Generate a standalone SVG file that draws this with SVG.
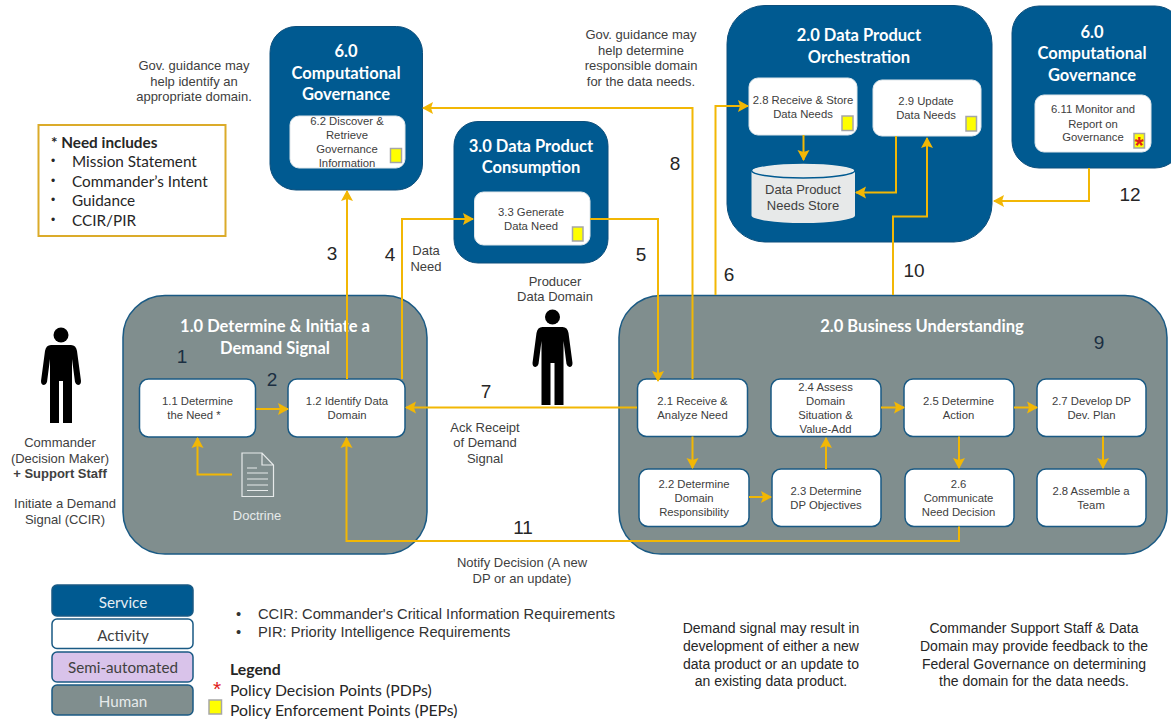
<svg xmlns="http://www.w3.org/2000/svg" width="1171" height="719" viewBox="0 0 1171 719">
<style>
text{font-family:"Liberation Sans",Arial,sans-serif;dominant-baseline:central;text-anchor:middle;fill:#404040;font-size:11.3px}
.title{font-family:Lato,"Open Sans",sans-serif;font-weight:700;font-size:16.5px;fill:#fff}
.svc{fill:#005a91;stroke:#0d4f7c;stroke-width:1}
.hum{fill:#808e8e;stroke:#1a5a84;stroke-width:1.5}
.act{fill:#fff;stroke:#1a5a84;stroke-width:1.5}
.in{fill:#fff;stroke:#dfe6ea;stroke-width:1}
.pep{fill:#ffff00;stroke:#a6a6a6;stroke-width:1.5}
.note{font-size:13px}
.num{font-size:19px;fill:#262626}
.lg{font-family:Lato,"Open Sans",sans-serif;font-size:15.3px;fill:#262626;text-anchor:start}
.pol{font-size:15.8px}
.dot{font-family:"Liberation Sans",sans-serif;font-size:12px}
.li{font-size:14.7px;text-anchor:start;fill:#333}
.rt{font-size:14px;fill:#262626}
.bk{font-family:Lato,"Open Sans",sans-serif;font-size:15.2px;fill:#404040}
#connectors path{fill:none;stroke:#f2b705;stroke-width:2}
.a{marker-end:url(#arrow)}
</style>
<defs>
<marker id="arrow" markerUnits="userSpaceOnUse" markerWidth="12" markerHeight="13" viewBox="0 0 12 13" refX="10" refY="6.5" orient="auto"><path d="M0,0.5 L11,6.5 L0,12.5 L2,6.5 Z" fill="#f2b705"/></marker>
<g id="person"><circle cx="0" cy="8" r="7.5" fill="#000"/><path d="M-10,18 H10 Q15,18 16,24 L20,54 Q20,58 17,58 Q15,58 14,55 L11,32 V96 H2 V54 H-2 V96 H-11 V32 L-14,55 Q-15,58 -17,58 Q-20,58 -20,54 L-16,24 Q-15,18 -10,18 Z" fill="#000"/></g>
</defs>
<rect width="1171" height="719" fill="#fff"/>

<g id="need-box"><rect x="38.500" y="125" width="187" height="111" fill="#fff" stroke="#dbab2a" stroke-width="2"/>
<text class="lg" x="51" y="142" style="font-weight:700">* Need includes</text>
<text class="lg dot" x="51" y="161">•</text><text class="lg" x="72" y="161">Mission Statement</text>
<text class="lg dot" x="51" y="181">•</text><text class="lg" x="72" y="181">Commander’s Intent</text>
<text class="lg dot" x="51" y="200">•</text><text class="lg" x="72" y="200">Guidance</text>
<text class="lg dot" x="51" y="220">•</text><text class="lg" x="72" y="220">CCIR/PIR</text></g>

<g id="svc-6-left"><rect class="svc" x="270" y="26.500" width="152.500" height="163.500" rx="26"/>
<text class="title" x="346" y="51">6.0</text><text class="title" x="346" y="72.500">Computational</text><text class="title" x="346" y="94">Governance</text></g>
<g id="a-6-2"><rect class="in" x="290" y="116" width="115" height="52" rx="9"/>
<text x="347" y="121">6.2 Discover &amp;</text><text x="347" y="135">Retrieve</text><text x="347" y="148.500">Governance</text><text x="347" y="162.500">Information</text>
<rect class="pep" x="390.500" y="148.500" width="11" height="14"/></g>

<g id="svc-3"><rect class="svc" x="454" y="121.500" width="154" height="141.500" rx="24"/>
<text class="title" x="531" y="145.500">3.0 Data Product</text><text class="title" x="531" y="167">Consumption</text></g>
<g id="a-3-3"><rect class="in" x="474.500" y="192" width="115.500" height="53" rx="9"/>
<text x="531" y="212">3.3 Generate</text><text x="531" y="226">Data Need</text>
<rect class="pep" x="572.500" y="227" width="10.500" height="14"/></g>

<g id="svc-2-orch"><rect class="svc" x="727" y="5.500" width="265" height="236.500" rx="38"/>
<text class="title" x="859" y="34.500">2.0 Data Product</text><text class="title" x="859" y="56.500">Orchestration</text></g>
<g id="a-2-8a"><rect class="in" x="749" y="78" width="108" height="57" rx="9"/>
<text x="803" y="100">2.8 Receive &amp; Store</text><text x="803" y="114">Data Needs</text>
<rect class="pep" x="842" y="116" width="11" height="14.500"/></g>
<g id="a-2-9"><rect class="in" x="873" y="80" width="108" height="56" rx="9"/>
<text x="926" y="101">2.9 Update</text><text x="926" y="115">Data Needs</text>
<rect class="pep" x="966" y="116.500" width="10.500" height="14.500"/></g>
<g id="store"><path d="M751.500,170.500 V215.500 A51.750,7.500 0 0 0 855,215.500 V170.500 Z" fill="#e7e9e9"/>
<ellipse cx="803.250" cy="170.500" rx="51.750" ry="7.500" fill="#e9ecec" stroke="#005a91" stroke-width="1.500"/>
<text class="note" x="803" y="189.500">Data Product</text><text class="note" x="803" y="205">Needs Store</text></g>

<g id="svc-6-right"><rect class="svc" x="1012" y="6" width="170" height="162" rx="27"/>
<text class="title" x="1092" y="31.500">6.0</text><text class="title" x="1092" y="53">Computational</text><text class="title" x="1092" y="74.500">Governance</text></g>
<g id="a-6-11"><rect class="in" x="1035" y="95" width="116" height="57" rx="9"/>
<text x="1093" y="109">6.11 Monitor and</text><text x="1093" y="123.500">Report on</text><text x="1093" y="137">Governance</text>
<rect class="pep" x="1134" y="133.500" width="10.500" height="14.500"/><text x="1139.300" y="146" style="font-size:23px;font-weight:700;fill:#e0201b">*</text></g>

<g id="hum-1"><rect class="hum" x="123" y="295.500" width="304" height="258.500" rx="42"/>
<text class="title" x="275" y="326">1.0 Determine &amp; Initiate a</text><text class="title" x="275" y="347.500">Demand Signal</text>
<text class="num" x="182" y="356" style="fill:#1b2f42">1</text><text class="num" x="272" y="379" style="fill:#1b2f42">2</text></g>
<g id="a-1-1"><rect class="act" x="139.500" y="379" width="116" height="58" rx="9"/><text x="197.500" y="401">1.1 Determine</text><text x="194" y="415">the Need *</text></g>
<g id="a-1-2"><rect class="act" x="288" y="379" width="117" height="58" rx="9"/><text x="347" y="401">1.2 Identify  Data</text><text x="347" y="415">Domain</text></g>
<g id="doctrine"><path d="M242,453 H262 L273.500,465 V496.500 H242 Z M262,453 V465 H273.500" fill="none" stroke="#e6eaea" stroke-width="1.200"/>
<path d="M247,468 H257 M247,473 H268 M247,479 H268 M247,485 H268 M247,490.500 H268" fill="none" stroke="#e6eaea" stroke-width="1.200"/>
<text class="note" x="257" y="515" style="fill:#e6eaea">Doctrine</text></g>

<g id="hum-2"><rect class="hum" x="619" y="295.500" width="548" height="258.500" rx="42"/>
<text class="title" x="922" y="325.500">2.0 Business Understanding</text><text class="num" x="1099" y="342" style="fill:#1b2f42">9</text></g>
<g id="a-2-1"><rect class="act" x="637.500" y="379" width="110" height="57.500" rx="9"/><text x="692.500" y="401">2.1 Receive &amp;</text><text x="692.500" y="415">Analyze Need</text></g>
<g id="a-2-4"><rect class="act" x="771" y="379" width="110" height="57.500" rx="9"/><text x="825.500" y="387">2.4 Assess</text><text x="825.500" y="401">Domain</text><text x="825.500" y="414.500">Situation &amp;</text><text x="825.500" y="428.500">Value-Add</text></g>
<g id="a-2-5"><rect class="act" x="904" y="379" width="110" height="57.500" rx="9"/><text x="958.500" y="401">2.5 Determine</text><text x="958.500" y="415">Action</text></g>
<g id="a-2-7"><rect class="act" x="1037" y="379" width="109" height="57.500" rx="9"/><text x="1091.500" y="401">2.7 Develop DP</text><text x="1091.500" y="415">Dev. Plan</text></g>
<g id="a-2-2"><rect class="act" x="639" y="469" width="110" height="57.500" rx="9"/><text x="694" y="484">2.2 Determine</text><text x="694" y="498">Domain</text><text x="694" y="511.500">Responsibility</text></g>
<g id="a-2-3"><rect class="act" x="772" y="469" width="109" height="57.500" rx="9"/><text x="826" y="491">2.3 Determine</text><text x="826" y="505">DP Objectives</text></g>
<g id="a-2-6"><rect class="act" x="905" y="469" width="109" height="57.500" rx="9"/><text x="958.500" y="484">2.6</text><text x="958.500" y="498">Communicate</text><text x="958.500" y="511.500">Need Decision</text></g>
<g id="a-2-8b"><rect class="act" x="1037" y="469" width="109" height="57.500" rx="9"/><text x="1091" y="491">2.8 Assemble a</text><text x="1091" y="505">Team</text></g>

<g id="commander"><use href="#person" x="61" y="327"/>
<text class="note" x="60" y="442">Commander</text><text class="note" x="60" y="458">(Decision Maker)</text><text class="note" x="60" y="473" style="font-weight:700">+ Support Staff</text>
<text class="note" x="65" y="503">Initiate a Demand</text><text class="note" x="65" y="519">Signal (CCIR)</text></g>
<g id="producer"><use href="#person" x="552.500" y="309"/>
<text class="note" x="555" y="281">Producer</text><text class="note" x="555" y="296">Data Domain</text></g>

<g id="connectors">
<path class="a" d="M347,379 V191"/>
<path class="a" d="M402,379 V219 H473"/>
<path class="a" d="M590,219 H658 V381"/>
<path class="a" d="M692.500,379 V108 H423"/>
<path class="a" d="M715.500,295 V106 H748"/>
<path class="a" d="M893,295 V216.500 H927 V138"/>
<path class="a" d="M896,136 V192.500 H856"/>
<path class="a" d="M803.500,135 V160"/>
<path class="a" d="M1089,168 V201 H994"/>
<path class="a" d="M637,407.500 H406"/>
<path class="a" d="M256,409 H288"/>
<path class="a" d="M232,474.500 H197.500 V438"/>
<path class="a" d="M959,526.500 V541 H346.500 V438"/>
<path class="a" d="M692.500,436.500 V468"/>
<path class="a" d="M749,497 H771"/>
<path class="a" d="M826,469 V438"/>
<path class="a" d="M881,407.500 H904"/>
<path class="a" d="M1014,407.500 H1037"/>
<path class="a" d="M959,436.500 V468"/>
<path class="a" d="M1103,436.500 V468"/>
</g>

<g id="labels">
<text class="note" x="194" y="65">Gov. guidance may</text><text class="note" x="194" y="81">help identify an</text><text class="note" x="194" y="96">appropriate domain.</text>
<text class="note" x="641" y="34">Gov. guidance may</text><text class="note" x="641" y="50">help determine</text><text class="note" x="641" y="65.500">responsible domain</text><text class="note" x="641" y="81">for the data needs.</text>
<text class="note" x="426" y="250">Data</text><text class="note" x="426" y="266">Need</text>
<text class="note" x="485" y="427">Ack Receipt</text><text class="note" x="485" y="442">of Demand</text><text class="note" x="485" y="458">Signal</text>
<text class="note" x="522" y="562">Notify Decision (A new</text><text class="note" x="522" y="578">DP or an update)</text>
<text class="num" x="332" y="253">3</text><text class="num" x="390" y="254">4</text><text class="num" x="641" y="254">5</text><text class="num" x="729" y="274">6</text><text class="num" x="486" y="391">7</text><text class="num" x="675" y="163">8</text><text class="num" x="914" y="270">10</text><text class="num" x="523" y="527">11</text><text class="num" x="1130" y="194">12</text>
</g>

<g id="legend-service"><rect class="svc" x="52" y="585" width="141" height="31" rx="5" style="stroke:#1a5a84;stroke-width:1.5"/><text class="bk" x="123" y="601.500" style="fill:#e6eef3">Service</text></g>
<g id="legend-activity"><rect class="act" x="52" y="619" width="141" height="29.500" rx="5"/><text class="bk" x="123" y="634.500">Activity</text></g>
<g id="legend-semi"><rect x="52" y="652" width="141" height="30" rx="5" fill="#d9c3ea" stroke="#1a5a84" stroke-width="1.500"/><text class="bk" x="123" y="667">Semi-automated</text></g>
<g id="legend-human"><rect class="hum" x="52" y="685" width="141" height="30" rx="5"/><text class="bk" x="123" y="701" style="fill:#e6eaea">Human</text></g>

<g id="notes">
<text class="li dot" x="236" y="613.500">•</text><text class="li" x="258" y="614">CCIR: Commander's Critical Information Requirements</text>
<text class="li dot" x="236" y="631.500">•</text><text class="li" x="258" y="632">PIR: Priority Intelligence Requirements</text>
<text class="lg pol" x="230" y="668" style="font-weight:700">Legend</text>
<text class="lg pol" x="230" y="689">Policy Decision Points (PDPs)</text>
<text class="lg pol" x="230" y="709">Policy Enforcement Points (PEPs)</text>
<text x="217" y="688" style="font-size:21px;fill:#e0201b">*</text>
<rect class="pep" x="209" y="700" width="12.500" height="14"/>
<text class="rt" x="771" y="628">Demand signal may result in</text><text class="rt" x="771" y="646">development of either a new</text><text class="rt" x="771" y="664">data product or an update to</text><text class="rt" x="771" y="681">an existing data product.</text>
<text class="rt" x="1034" y="628">Commander Support Staff &amp; Data</text><text class="rt" x="1034" y="646">Domain may provide feedback to the</text><text class="rt" x="1034" y="664">Federal Governance on determining</text><text class="rt" x="1034" y="681">the domain for the data needs.</text>
</g>
</svg>
